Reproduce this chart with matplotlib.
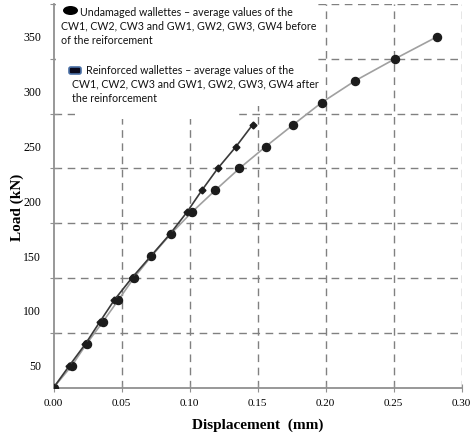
import matplotlib
matplotlib.use("Agg")
import matplotlib.pyplot as plt
from matplotlib.patches import Rectangle, Ellipse, FancyBboxPatch

# Undamaged wallettes (before reinforcement)
undamaged_disp = [0.0, 0.0134, 0.0243, 0.0362, 0.0477, 0.059, 0.072, 0.086,
                  0.1016, 0.1188, 0.1366, 0.156, 0.1763, 0.197, 0.2217,
                  0.251, 0.2817]
undamaged_load = [30, 50, 70, 90, 110, 130, 150, 170, 190, 210, 230, 250,
                  270, 290, 310, 330, 350]

# Reinforced wallettes (after reinforcement)
reinforced_disp = [0.0, 0.0116, 0.0235, 0.034, 0.0447, 0.0575, 0.0715,
                   0.0855, 0.098, 0.109, 0.1207, 0.1342, 0.1464]
reinforced_load = [30, 50, 70, 90, 110, 130, 150, 170, 190, 210, 230, 250, 270]

x_ticks = [0.00, 0.05, 0.10, 0.15, 0.20, 0.25, 0.30]
y_grid = [80, 130, 180, 230, 280, 330, 380]
y_labels = [50, 100, 150, 200, 250, 300, 350]

W, H = 472, 433
fig = plt.figure(figsize=(W / 100, H / 100), dpi=100)
ax = fig.add_axes([53.5 / W, 1 - 387.7 / H, 408.2 / W, 383.7 / H])


def px(x, y):
    # figure pixel -> figure fraction
    return x / W, 1 - y / H


grid_kw = dict(color="#808080", lw=1.0, ls=(0, (5.5, 4)), zorder=1)
for xv in x_ticks[1:]:
    ax.axvline(xv, **grid_kw)
for yv in y_grid:
    ax.axhline(yv, **grid_kw)

# white areas behind the legend texts
ax.add_patch(Rectangle((0.006, 0.733), 0.64, 0.3, transform=ax.transAxes,
                       facecolor="white", edgecolor="none", zorder=2, clip_on=False))
ax.add_patch(Rectangle((0.053, 0.70), 0.396, 0.035, transform=ax.transAxes,
                       facecolor="white", edgecolor="none", zorder=2, clip_on=False))

ax.plot(undamaged_disp, undamaged_load, color="#a0a0a0", lw=1.2, marker="o",
        ms=5.8, mfc="#1c1c1c", mec="#1c1c1c", zorder=3)
ax.plot(reinforced_disp, reinforced_load, color="#3a3a3a", lw=1.2, marker="D",
        ms=3.5, mfc="#1c1c1c", mec="#1c1c1c", zorder=4)

ax.set_xlim(0, 0.30)
ax.set_ylim(30, 380)

ax.set_xticks(x_ticks)
ax.set_xticklabels([f"{v:.2f}" for v in x_ticks], family="Liberation Serif",
                   fontsize=8)
ax.set_yticks(y_grid)
ax.set_yticklabels([])
ax.set_yticks(y_labels, minor=True)
ax.set_yticklabels([str(v) for v in y_labels], minor=True,
                   family="Liberation Serif", fontsize=8.5)
ax.tick_params(axis="x", which="major", direction="inout", length=6,
               color="#909090", pad=5)
ax.tick_params(axis="y", which="major", direction="inout", length=6,
               color="#909090")
ax.tick_params(axis="y", which="minor", length=0, pad=9)

for s in ["top", "right"]:
    ax.spines[s].set_visible(False)
for s in ["left", "bottom"]:
    ax.spines[s].set_color("#909090")
    ax.spines[s].set_linewidth(1.3)

ax.set_xlabel("Displacement  (mm)", family="Liberation Serif",
              fontweight="bold", fontsize=11)
ax.xaxis.set_label_coords(0.5, -0.08)
ax.set_ylabel("Load (kN)", family="Liberation Serif", fontweight="bold",
              fontsize=11)
ax.yaxis.set_label_coords(-0.072, 0.47)

# legend drawn as text blocks; size chosen so the widest line is ~254 px
legend_lines = [
    (80, 12, "Undamaged wallettes \u2013 average values of the"),
    (61, 26, "CW1, CW2, CW3 and GW1, GW2, GW3, GW4 before"),
    (61, 40, "of the reiforcement"),
    (86, 70, "Reinforced wallettes \u2013 average values of the"),
    (72, 84, "CW1, CW2, CW3 and GW1, GW2, GW3, GW4 after"),
    (72, 98, "the reinforcement"),
]
probe = fig.text(0, 0, legend_lines[1][2], family="Lato", fontsize=10)
renderer = fig.canvas.get_renderer()
probe_w = probe.get_window_extent(renderer).width
probe.remove()
leg_size = 10 * 254 / probe_w

for x, y, s in legend_lines:
    fig.text(*px(x, y), s, family="Lato", fontsize=leg_size,
             color="#111111", va="center")

ex, ey = px(70.5, 10.5)
fig.patches.append(Ellipse((ex, ey), 15 / W, 9 / H, transform=fig.transFigure,
                           facecolor="black", edgecolor="none"))
rx, ry = px(69, 74)
fig.patches.append(FancyBboxPatch((rx, ry), 12 / W, 7 / H,
                                  boxstyle="round,pad=0,rounding_size=0.004",
                                  transform=fig.transFigure,
                                  facecolor="#0b0b1e", edgecolor="#4a6fa5",
                                  lw=1.2))

fig.savefig("out.png", dpi=100)
